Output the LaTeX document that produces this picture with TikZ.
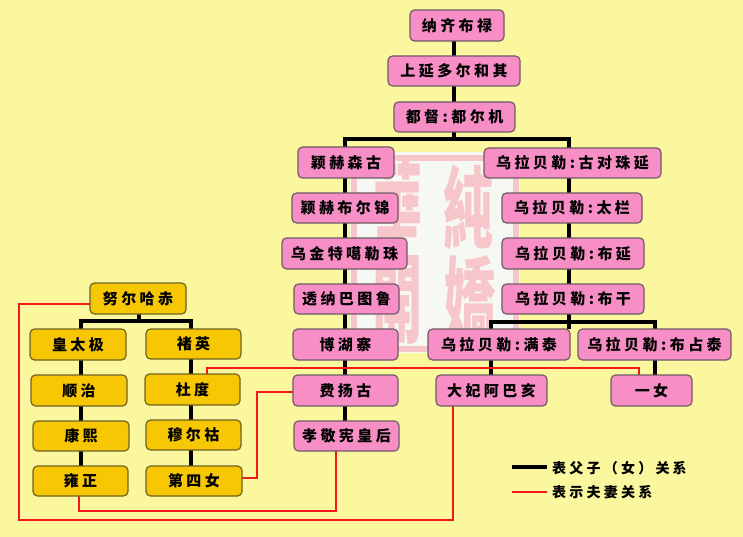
\documentclass[tikz,border=0pt]{standalone}
\usepackage{fontspec}
\usepackage{graphicx}
\newfontfamily\cjk[LetterSpace=23]{Noto Sans CJK SC}
\newfontfamily\cjkseal{Noto Sans CJK TC}
\usetikzlibrary{calc}
\pgfdeclarelayer{bg}
\pgfsetlayers{bg,main}
\definecolor{paper}{HTML}{FBF79E}
\definecolor{pinkbox}{HTML}{F78FC6}
\definecolor{pinkedge}{HTML}{6F5A64}
\definecolor{goldbox}{HTML}{F7C703}
\definecolor{goldedge}{HTML}{6E6226}
\definecolor{redline}{HTML}{F01818}
\definecolor{sealink}{HTML}{F7C6CA}
\definecolor{sealpaper}{HTML}{F6F8F4}
\tikzset{
  boxbase/.style={rounded corners=4.5pt,line width=1.2pt,inner sep=0pt,outer sep=0pt,
    font=\cjk\bfseries\fontsize{15}{17}\selectfont,text=black},
  pinknode/.style={boxbase,draw=pinkedge,fill=pinkbox},
  goldnode/.style={boxbase,draw=goldedge,fill=goldbox},
  kin/.style={draw=black,line width=3.2pt},
  spouse/.style={draw=redline,line width=1.5pt},
  legendtext/.style={anchor=west,inner sep=0pt,font=\cjk\bfseries\fontsize{14}{16}\selectfont},
  sealchar/.style={inner sep=0pt,text=sealink,font=\cjkseal\bfseries\fontsize{60}{60}\selectfont}
}
\newcommand{\bx}[7]{%
  \pgfmathsetmacro{\bxw}{#5-#3}\pgfmathsetmacro{\bxh}{#6-#4}%
  \node[#1,minimum width=\bxw pt,minimum height=\bxh pt] (#2) at ({(#3+#5)/2},{(#4+#6)/2}) {#7};}
\begin{document}
\begin{tikzpicture}[x=1pt,y=-1pt]
\useasboundingbox (0,0) rectangle (743,537);
\begin{pgfonlayer}{bg}
\fill[paper] (0,0) rectangle (743,537);
% seal
\fill[sealpaper] (350,152) rectangle (520,353);
\draw[sealink,line width=6pt] (354,158) rectangle (516,349);
\node[sealchar] (sa) at (397,204) {\resizebox{50pt}{80pt}{華}};
\node[sealchar] (sb) at (397,300) {\resizebox{50pt}{80pt}{開}};
\node[sealchar] (sc) at (468,207) {\resizebox{50pt}{78pt}{純}};
\node[sealchar] (sd) at (470,300) {\resizebox{52pt}{80pt}{嬌}};
\end{pgfonlayer}

% pink tree
\bx{pinknode}{na}{410}{10}{504}{41}{纳齐布禄}
\bx{pinknode}{sh}{388}{56}{520}{86}{上延多尔和其}
\bx{pinknode}{du}{394}{102}{515}{132}{都督:都尔机}
\bx{pinknode}{y1}{298}{147}{394}{178}{颖赫森古}
\bx{pinknode}{y2}{292}{193}{398}{223}{颖赫布尔锦}
\bx{pinknode}{y3}{282}{238}{407}{269}{乌金特噶勒珠}
\bx{pinknode}{y4}{294}{284}{399}{314}{透纳巴图鲁}
\bx{pinknode}{y5}{293}{329}{398}{360}{博湖寨}
\bx{pinknode}{y6}{293}{375}{398}{406}{费扬古}
\bx{pinknode}{y7}{294}{421}{399}{451}{孝敬宪皇后}
\bx{pinknode}{w1}{484}{148}{661}{178}{乌拉贝勒:古对珠延}
\bx{pinknode}{w2}{502}{193}{642}{223}{乌拉贝勒:太栏}
\bx{pinknode}{w3}{502}{238}{644}{269}{乌拉贝勒:布延}
\bx{pinknode}{w4}{502}{284}{644}{314}{乌拉贝勒:布干}
\bx{pinknode}{w5}{428}{329}{570}{360}{乌拉贝勒:满泰}
\bx{pinknode}{w6}{578}{329}{731}{360}{乌拉贝勒:布占泰}
\bx{pinknode}{w7}{436}{375}{547}{406}{大妃阿巴亥}
\bx{pinknode}{w8}{611}{375}{692}{406}{一女}
% gold tree
\bx{goldnode}{nu}{90}{283}{186}{314}{努尔哈赤}
\bx{goldnode}{g1}{30}{329}{126}{360}{皇太极}
\bx{goldnode}{g2}{31}{375}{127}{406}{顺治}
\bx{goldnode}{g3}{33}{421}{129}{451}{康熙}
\bx{goldnode}{g4}{33}{466}{128}{496}{雍正}
\bx{goldnode}{c1}{146}{329}{241}{359}{褚英}
\bx{goldnode}{c2}{145}{374}{240}{405}{杜度}
\bx{goldnode}{c3}{146}{420}{241}{450}{穆尔祜}
\bx{goldnode}{c4}{146}{466}{242}{496}{第四女}
% legend labels
\node[legendtext] (la) at (552,468) {表父子（女）关系};
\node[legendtext] (lb) at (552,492) {表示夫妻关系};

% routing columns and rows
\coordinate (xa) at (454,139);
\coordinate (xb) at (345,139);
\coordinate (xc) at (569,139);
\coordinate (xd) at (491,322);
\coordinate (xe) at (655,322);
\coordinate (xf) at (139,321);
\coordinate (xg) at (81,321);
\coordinate (xh) at (191,321);
\coordinate (ra) at (19,520);
\coordinate (rb) at (453,520);
\coordinate (rc) at (79,511);
\coordinate (rd) at (336,511);
\coordinate (re) at (257,392);
\coordinate (rf) at (207,368);
\coordinate (rg) at (639,368);
\coordinate (k1) at (512,467);
\coordinate (k2) at (547,467);
\coordinate (s1) at (512,492);
\coordinate (s2) at (547,492);

\begin{pgfonlayer}{bg}
\draw[kin] (xa |- na.south) -- (xa);
\draw[kin] (xb |- y7.north) -- (xb) -- (xc) -- (xc |- w5.north);
\draw[kin] (xd |- w7.north) -- (xd) -- (xe) -- (xe |- w8.north);
\draw[kin] (xf |- nu.south) -- (xf);
\draw[kin] (xg |- g4.north) -- (xg) -- (xh) -- (xh |- c4.north);
% spouse links
\draw[spouse] (nu.west |- 0,304) -- (ra |- 0,304) -- (ra) -- (rb) -- (rb |- w7.south);
\draw[spouse] (rc |- g4.south) -- (rc) -- (rd) -- (rd |- y7.south);
\draw[spouse] (c4.east |- 0,478) -- (re |- 0,478) -- (re) -- (y6.west |- re);
\draw[spouse] (rf |- c2.north) -- (rf) -- (rg) -- (rg |- w8.north);
\end{pgfonlayer}
% legend keys
\draw[kin] (k1) -- (k2);
\draw[spouse] (s1) -- (s2);
\end{tikzpicture}
\end{document}
